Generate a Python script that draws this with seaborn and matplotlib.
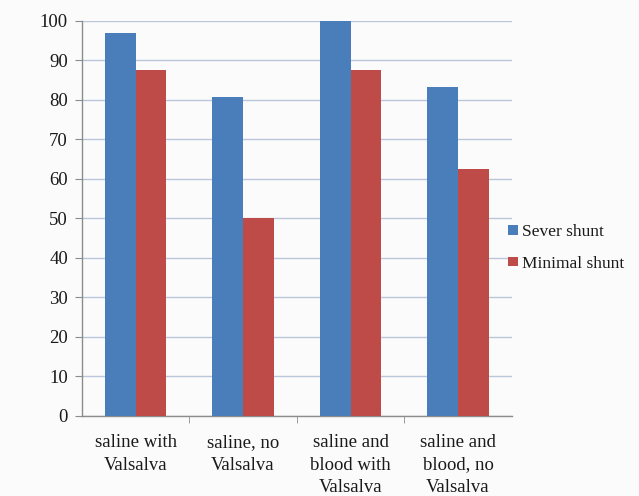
import matplotlib
matplotlib.use("Agg")
import matplotlib.pyplot as plt
import seaborn as sns
import pandas as pd
import numpy as np
from matplotlib.patches import Patch

categories = ["saline with\nValsalva", "saline, no\nValsalva",
              "saline and\nblood with\nValsalva", "saline and\nblood, no\nValsalva"]
severe = [97, 80.6, 100, 83.2]
minimal = [87.5, 50, 87.5, 62.5]
series_names = ["Sever shunt", "Minimal shunt"]
colors = ["#4a7ebb", "#be4b48"]

df = pd.DataFrame({
    "category": categories * 2,
    "value": severe + minimal,
    "series": [series_names[0]] * 4 + [series_names[1]] * 4,
})

sns.set_style("white")
plt.rcParams["font.family"] = ["Liberation Serif", "DejaVu Serif"]

fig = plt.figure(figsize=(6.39, 4.96), dpi=100)
fig.patch.set_facecolor("#fbfbfb")
ax = fig.add_axes([0.128, 0.162, 0.673, 0.796])
ax.set_facecolor("#fbfbfb")

sns.barplot(data=df, x="category", y="value", hue="series", order=categories,
            hue_order=series_names, palette=colors, saturation=1, width=0.575,
            ax=ax, legend=False, zorder=3)
for p in ax.patches:
    p.set_edgecolor("none")

ax.set_ylim(0, 100)
ax.set_xlim(-0.5, 3.5)
ax.set_yticks(np.arange(0, 101, 10))
ax.grid(axis="y", color="#b9c6dc", linewidth=1.0, zorder=0)
ax.set_axisbelow(True)
ax.set_xlabel("")
ax.set_ylabel("")

for s in ["top", "right"]:
    ax.spines[s].set_visible(False)
for s in ["left", "bottom"]:
    ax.spines[s].set_color("#8c8c8c")
    ax.spines[s].set_linewidth(1.0)

ax.tick_params(axis="y", which="major", length=5, color="#8c8c8c", labelsize=13.5,
               pad=5, left=True, labelcolor="#1a1a1a")
ax.tick_params(axis="x", which="major", length=0, labelsize=13.5, pad=13,
               labelcolor="#1a1a1a")
ax.set_xticks([0.5, 1.5, 2.5], minor=True)
ax.tick_params(axis="x", which="minor", length=5, color="#8c8c8c", bottom=True)
for lbl in ax.get_xticklabels():
    lbl.set_linespacing(1.45)
    lbl.set_verticalalignment("top")

handles = [Patch(facecolor=c, edgecolor="none", label=n) for c, n in zip(colors, series_names)]
fig.legend(handles=handles, loc="center left", bbox_to_anchor=(0.77, 0.5),
           frameon=False, fontsize=12.5, handlelength=0.6, handleheight=0.45,
           handletextpad=0.25, labelspacing=0.9, labelcolor="#1a1a1a")

fig.savefig("out.png", dpi=100, facecolor=fig.get_facecolor())
